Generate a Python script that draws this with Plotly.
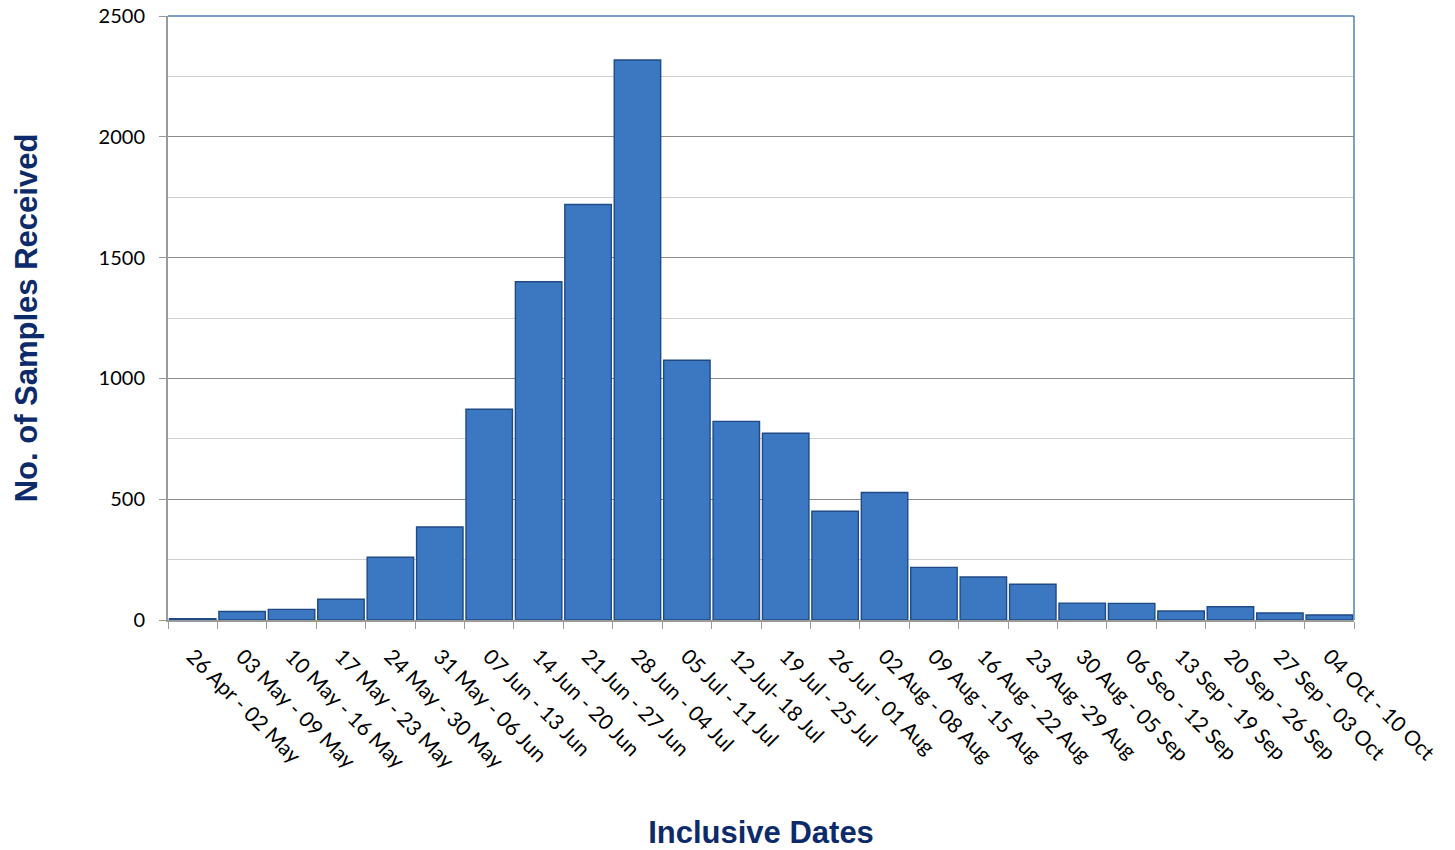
import plotly.graph_objects as go

weeks = [
    "26 Apr - 02 May", "03 May - 09 May", "10 May - 16 May", "17 May - 23 May",
    "24 May - 30 May", "31 May - 06 Jun", "07 Jun - 13 Jun", "14 Jun - 20 Jun",
    "21 Jun - 27 Jun", "28 Jun - 04 Jul", "05 Jul - 11 Jul", "12 Jul- 18 Jul",
    "19 Jul - 25 Jul", "26 Jul - 01 Aug", "02 Aug - 08 Aug", "09 Aug - 15 Aug",
    "16 Aug - 22 Aug", "23 Aug -29 Aug", "30 Aug - 05 Sep", "06 Seo - 12 Sep",
    "13 Sep - 19 Sep", "20 Sep - 26 Sep", "27 Sep - 03 Oct", "04 Oct - 10 Oct",
]
samples = [5, 35, 44, 86, 260, 385, 872, 1400, 1720, 2318, 1075, 822,
           773, 450, 528, 218, 178, 148, 70, 69, 37, 55, 29, 21]

y_ticks = [0, 500, 1000, 1500, 2000, 2500]

navy = "#0d2b6b"
tick_font = dict(size=21, family="Lato, Open Sans, sans-serif", color="black")
title_family = "Liberation Sans, Arial, sans-serif"

fig = go.Figure()
fig.add_trace(go.Bar(
    x=weeks,
    y=samples,
    marker=dict(color="#3c77c2", line=dict(color="#1f4a86", width=1.4)),
    hoverinfo="x+y",
))

fig.update_layout(
    width=1455, height=850,
    margin=dict(l=168, r=101, t=16, b=230),
    paper_bgcolor="white", plot_bgcolor="white",
    bargap=0.06,
    showlegend=False,
    font=dict(family="Lato, Open Sans, sans-serif", color="black"),
    shapes=[
        dict(type="line", xref="paper", yref="paper", x0=0, x1=1, y0=1, y1=1,
             line=dict(color="#4f81bd", width=1.5)),
        dict(type="line", xref="paper", yref="paper", x0=1, x1=1, y0=0, y1=1,
             line=dict(color="#4f81bd", width=1.5)),
    ],
)

fig.update_xaxes(
    type="category",
    automargin=False,
    tickangle=45,
    tickfont=tick_font,
    ticklabelstandoff=14,
    showline=True, linecolor="#9a9a9a", linewidth=2,
    ticks="outside", tickson="boundaries", ticklen=7, tickcolor="#9a9a9a",
    showgrid=False,
    title=dict(text="<b>Inclusive Dates</b>", standoff=70,
               font=dict(size=31, color=navy, family=title_family)),
)

fig.update_yaxes(
    range=[0, 2500],
    automargin=False,
    tickvals=y_ticks,
    tickfont=dict(size=20, family="Lato, Open Sans, sans-serif", color="black"),
    ticklabelstandoff=10,
    showline=True, linecolor="#9a9a9a", linewidth=2,
    ticks="outside", ticklen=7, tickcolor="#9a9a9a",
    showgrid=True, gridcolor="#8c8c8c", gridwidth=1.2,
    minor=dict(dtick=250, showgrid=True, gridcolor="#d0d0d0", gridwidth=1.2),
    zeroline=False,
    title=dict(text="<b>No. of Samples Received</b>", standoff=52,
               font=dict(size=31, color=navy, family=title_family)),
)

fig.write_html("out.html")
